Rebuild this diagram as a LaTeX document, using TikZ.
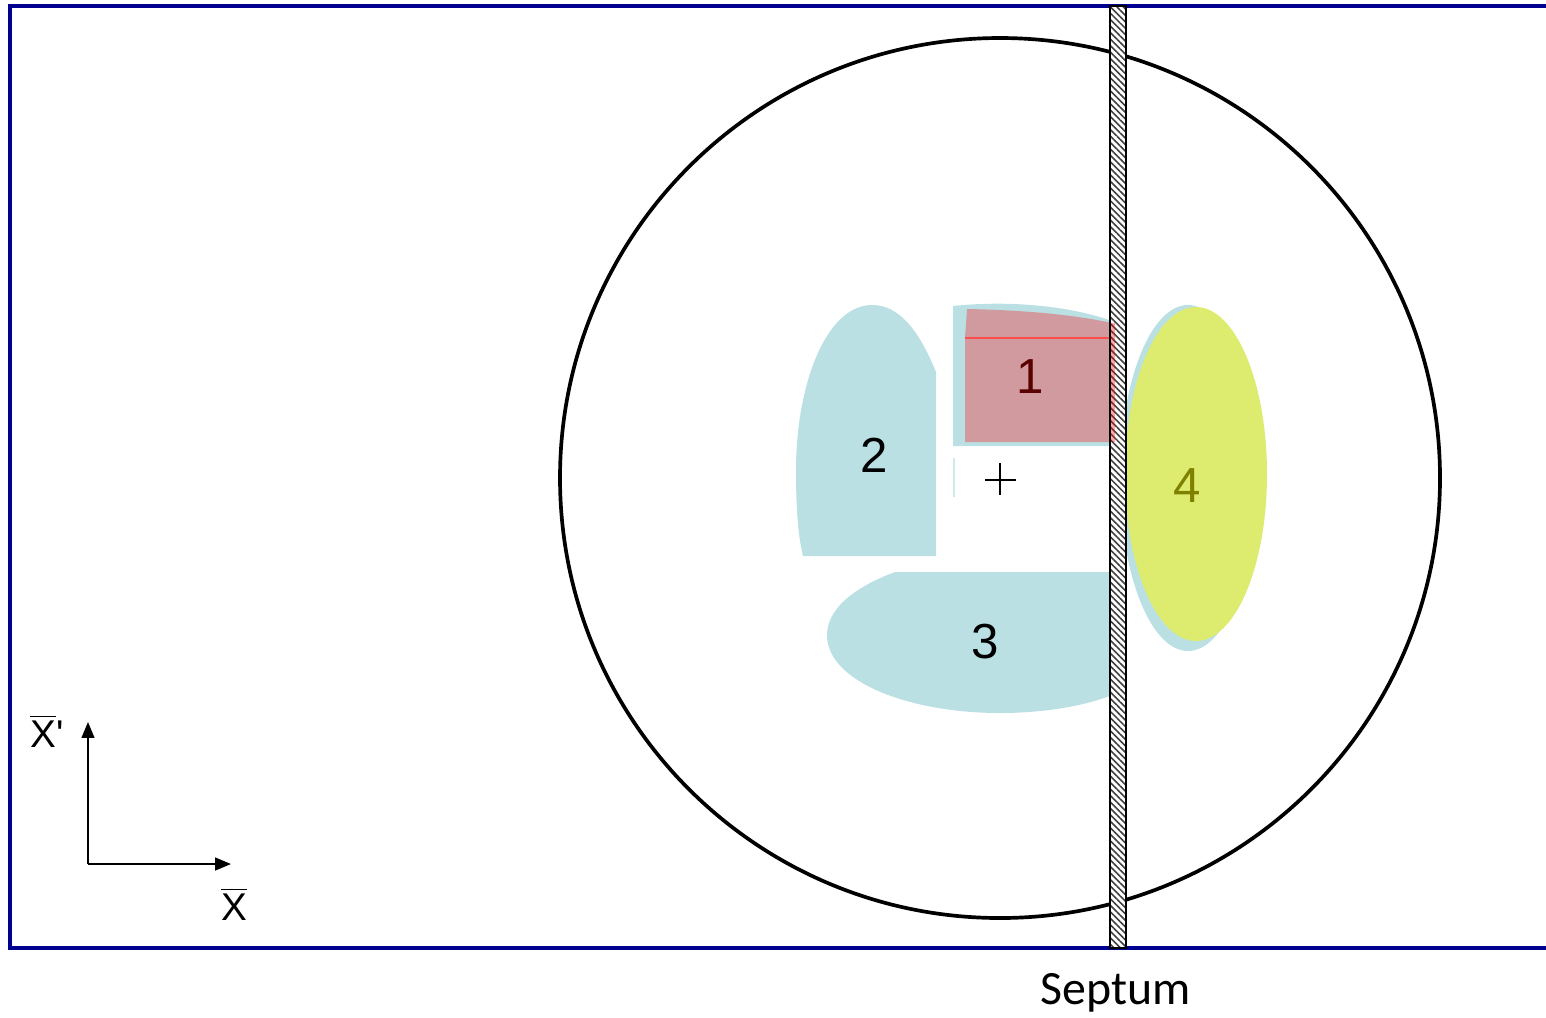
\documentclass[tikz,border=0pt]{standalone}
\usepackage{fontspec}
\setmainfont{Liberation Sans}
\newfontfamily\septfont{Carlito}
\usetikzlibrary{arrows.meta,patterns.meta}
\definecolor{frameblue}{HTML}{000090}
\definecolor{regblue}{HTML}{BAE0E3}
\definecolor{regred}{HTML}{D09A9E}
\definecolor{regyellow}{HTML}{DDEC6F}
\definecolor{darkred}{HTML}{5A0000}
\definecolor{olive4}{HTML}{7F7F00}
\tikzset{
  frameline/.style={draw=frameblue,line width=1.05pt},
  region/.style={fill=regblue,draw=none},
  numlabel/.style={font=\fontsize{14}{16}\selectfont,inner sep=0pt},
  axislabel/.style={font=\fontsize{11}{13}\selectfont,inner sep=0pt},
  axisarrow/.style={line width=0.6pt,-{Triangle[length=4.5pt,width=3.6pt]}}
}
\begin{document}
\begin{tikzpicture}[x=0.01cm,y=-0.01cm]
\useasboundingbox (0,0) rectangle (1546,1017);
\fill[white] (0,0) rectangle (1546,1017);
% frame
\draw[frameline] (1546,6) -- (10,6) -- (10,948) -- (1546,948);
% circle
\draw[line width=1.05pt] (1000,478) circle [radius=440];
% region 2
\fill[region] (803,556) -- (936,556) -- (936,372)
  .. controls (918,328) and (898,305) .. (872,305)
  .. controls (826,305) and (796,385) .. (796,470)
  .. controls (796,515) and (799,540) .. (803,556) -- cycle;
% region 1 background
\fill[region] (953,306) .. controls (1010,300) and (1070,306) .. (1112,321)
  -- (1112,446) -- (953,446) -- cycle;
\fill[regblue!70] (953,458) rectangle (954.5,497);
% region 1 red
\fill[regred] (965,442) -- (965,338) -- (967,309)
  .. controls (1020,310) and (1070,314) .. (1112,323) -- (1112,442) -- cycle;
\draw[red!70,line width=0.3pt] (965,338) -- (1115,338);
% region 3
\fill[region] (1112,572) -- (895,572)
  .. controls (852,588) and (827,610) .. (827,635)
  .. controls (827,682) and (910,713) .. (1000,713)
  .. controls (1050,713) and (1090,704) .. (1112,695) -- cycle;
% region 4
\fill[regblue] (1188,478) ellipse [x radius=68, y radius=173];
\fill[regyellow] (1196,474) ellipse [x radius=71, y radius=167];
% septum
\path[fill=white] (1110,6) rectangle (1126,948);
\path[pattern={Lines[angle=-45,distance=1.3pt,line width=0.45pt]},pattern color=black!75] (1110,6) rectangle (1126,948);
\draw[line width=0.6pt] (1110,6) rectangle (1126,948);
\fill[red,opacity=0.35] (1111,323) rectangle (1115,442);
% centre cross
\draw[line width=0.6pt] (985,480) -- (1016,480) (1000,463) -- (1000,495);
% labels
\node[numlabel,text=darkred] (l1) at (1030,377) {1};
\node[numlabel] (l2) at (874,455) {2};
\node[numlabel] (l3) at (985,642) {3};
\node[numlabel,text=olive4] (l4) at (1187,486) {4};
\node[font=\septfont\fontsize{13.6}{16}\selectfont,inner sep=0pt] (sept) at (1116,993) {Septum};
% axes
\coordinate (o) at (88,864);
\coordinate (xe) at (231,864);
\coordinate (ye) at (88,722);
\draw[axisarrow] (o) -- (ye);
\draw[axisarrow] (o) -- (xe);
\node[axislabel] (xp) at (47,731) {$\overline{\hbox{X}}$\textquotesingle};
\node[axislabel] (xl) at (234,904) {$\overline{\hbox{X}}$};
\end{tikzpicture}
\end{document}
